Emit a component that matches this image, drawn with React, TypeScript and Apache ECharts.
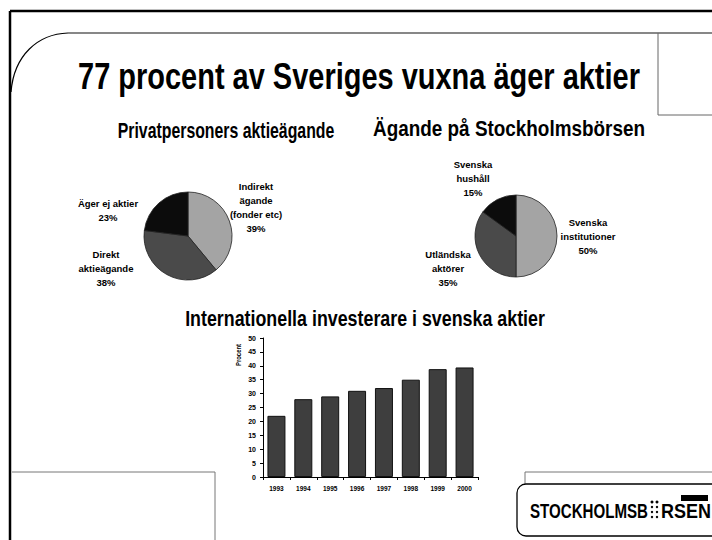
import React, { useEffect, useRef } from "react";
import * as echarts from "echarts";

// ---- data ----
const mainTitle = "77 procent av Sveriges vuxna äger aktier";
const leftTitle = "Privatpersoners aktieägande";
const rightTitle = "Ägande på Stockholmsbörsen";
const barTitle = "Internationella investerare i svenska aktier";

const privateNames = ["Indirekt\nägande\n(fonder etc)", "Direkt\naktieägande", "Äger ej aktier"];
const privateValues = [39, 38, 23];

const exchangeNames = ["Svenska\ninstitutioner", "Utländska\naktörer", "Svenska\nhushåll"];
const exchangeValues = [50, 35, 15];

const years = ["1993", "1994", "1995", "1996", "1997", "1998", "1999", "2000"];
const foreignShare = [22, 28, 29, 31, 32, 35, 38.8, 39.4];
const yAxisName = "Procent";

const logoLeft = "STOCKHOLMSB";
const logoRight = "RSEN";

// ---- layout / styles (kept separate from data) ----
const FONT = '"Liberation Sans", Arial, sans-serif';
const pieColors = ["#a4a4a4", "#4a4a4a", "#0c0c0c"];
const privateLabelPos = [
  [256, 207],
  [106, 268],
  [108, 210],
];
const exchangeLabelPos = [
  [588, 236],
  [448, 268],
  [473, 178],
];

function measure(text: string, size: number): number {
  const ctx = document.createElement("canvas").getContext("2d")!;
  ctx.font = `bold ${size}px "Liberation Sans", Arial, sans-serif`;
  return ctx.measureText(text).width;
}

function condensedText(text: string, x: number, y: number, size: number, width: number, align: string = "center") {
  const w = measure(text, size);
  return {
    type: "text",
    x,
    y,
    scaleX: width / w,
    style: {
      text,
      fontFamily: FONT,
      fontWeight: "bold",
      fontSize: size,
      fill: "#000",
      align,
      verticalAlign: "middle",
    },
  };
}

export default function App() {
  const ref = useRef<HTMLDivElement>(null);
  useEffect(() => {
    document.body.style.margin = "0";
    const chart = echarts.init(ref.current!, undefined, { renderer: "svg" });
    const labelStyle = {
      show: true,
      position: "outside" as const,
      formatter: "{b}\n{c}%",
      fontFamily: FONT,
      fontWeight: "bold" as const,
      fontSize: 9.5,
      lineHeight: 14,
      color: "#000",
      align: "center" as const,
    };
    const dots: any[] = [];
    [502, 507, 512, 517].forEach((yy, r) =>
      [652, 657].forEach((xx) =>
        dots.push({ type: "circle", shape: { cx: xx, cy: yy, r: r === 0 ? 1.5 : 1.2 }, style: { fill: "#000" } })
      )
    );
    const option: any = {
      animation: false,
      backgroundColor: "#fff",
      grid: { left: 263, right: 234, top: 338, bottom: 63 },
      xAxis: {
        type: "category",
        data: years,
        axisLine: { lineStyle: { color: "#000", width: 1 } },
        axisTick: { show: true, length: 3, lineStyle: { color: "#000" } },
        axisLabel: { fontFamily: FONT, fontWeight: "bold", fontSize: 6.5, color: "#000", margin: 8 },
      },
      yAxis: {
        type: "value",
        min: 0,
        max: 50,
        interval: 5,
        axisLine: { show: true, lineStyle: { color: "#000", width: 1 } },
        axisTick: { show: true, length: 3, lineStyle: { color: "#000" } },
        splitLine: { show: false },
        axisLabel: { fontFamily: FONT, fontWeight: "bold", fontSize: 7, color: "#000", margin: 7 },
      },
      series: [
        {
          type: "bar",
          data: foreignShare,
          barWidth: 18,
          itemStyle: { color: "#3e3e3e", borderColor: "#111", borderWidth: 1 },
        },
        {
          type: "pie",
          center: [188, 236],
          radius: 44,
          startAngle: 90,
          clockwise: true,
          data: privateNames.map((n, i) => ({ name: n, value: privateValues[i] })),
          color: pieColors,
          itemStyle: { borderColor: "#222", borderWidth: 0.8 },
          label: labelStyle,
          labelLine: { show: false },
          labelLayout: (p: any) => ({
            x: privateLabelPos[p.dataIndex][0],
            y: privateLabelPos[p.dataIndex][1],
            align: "center",
            verticalAlign: "middle",
          }),
        },
        {
          type: "pie",
          center: [516, 236],
          radius: 41,
          startAngle: 90,
          clockwise: true,
          data: exchangeNames.map((n, i) => ({ name: n, value: exchangeValues[i] })),
          color: pieColors,
          itemStyle: { borderColor: "#222", borderWidth: 0.8 },
          label: labelStyle,
          labelLine: { show: false },
          labelLayout: (p: any) => ({
            x: exchangeLabelPos[p.dataIndex][0],
            y: exchangeLabelPos[p.dataIndex][1],
            align: "center",
            verticalAlign: "middle",
          }),
        },
      ],
      graphic: [
        // outer frame
        { type: "line", shape: { x1: 10, y1: 11, x2: 712, y2: 11 }, style: { stroke: "#000", lineWidth: 2.5 } },
        { type: "line", shape: { x1: 10, y1: 11, x2: 10, y2: 540 }, style: { stroke: "#000", lineWidth: 2.5 } },
        // curved inner top
        {
          type: "bezierCurve",
          shape: { x1: 11, y1: 92, cpx1: 14, cpy1: 55, cpx2: 38, cpy2: 34, x2: 68, y2: 33 },
          style: { stroke: "#000", lineWidth: 1.2, fill: "none" },
        },
        { type: "line", shape: { x1: 68, y1: 33, x2: 712, y2: 33 }, style: { stroke: "#111", lineWidth: 1.2 } },
        // top right box
        { type: "line", shape: { x1: 658, y1: 33, x2: 658, y2: 115 }, style: { stroke: "#666", lineWidth: 1 } },
        { type: "line", shape: { x1: 658, y1: 115, x2: 712, y2: 115 }, style: { stroke: "#666", lineWidth: 1 } },
        // bottom left box
        { type: "line", shape: { x1: 12, y1: 472, x2: 215, y2: 472 }, style: { stroke: "#777", lineWidth: 1 } },
        { type: "line", shape: { x1: 215, y1: 472, x2: 215, y2: 540 }, style: { stroke: "#777", lineWidth: 1 } },
        // bottom right box
        { type: "line", shape: { x1: 525, y1: 472, x2: 712, y2: 472 }, style: { stroke: "#777", lineWidth: 1 } },
        { type: "line", shape: { x1: 525, y1: 472, x2: 525, y2: 484 }, style: { stroke: "#777", lineWidth: 1 } },
        {
          type: "rect",
          shape: { x: 517, y: 484, width: 220, height: 52, r: 9 },
          style: { stroke: "#000", lineWidth: 1.3, fill: "none" },
        },
        // titles
        condensedText(mainTitle, 359, 76, 37, 562),
        condensedText(leftTitle, 226, 131, 22, 217),
        condensedText(rightTitle, 509, 128, 22, 272),
        condensedText(barTitle, 365, 318, 22, 360),
        {
          type: "text",
          x: 238,
          y: 355,
          rotation: Math.PI / 2,
          scaleX: 0.85,
          style: { text: yAxisName, fontFamily: FONT, fontWeight: "bold", fontSize: 7, fill: "#000", align: "center", verticalAlign: "middle" },
        },
        // logo
        condensedText(logoLeft, 530, 511, 20, 118, "left"),
        ...dots,
        condensedText(logoRight, 661, 511, 20, 50, "left"),
        { type: "rect", shape: { x: 681, y: 495, width: 27, height: 6 }, style: { fill: "#000" } },
      ],
    };
    chart.setOption(option);
    return () => chart.dispose();
  }, []);
  return <div ref={ref} style={{ width: 712, height: 540 }} />;
}
